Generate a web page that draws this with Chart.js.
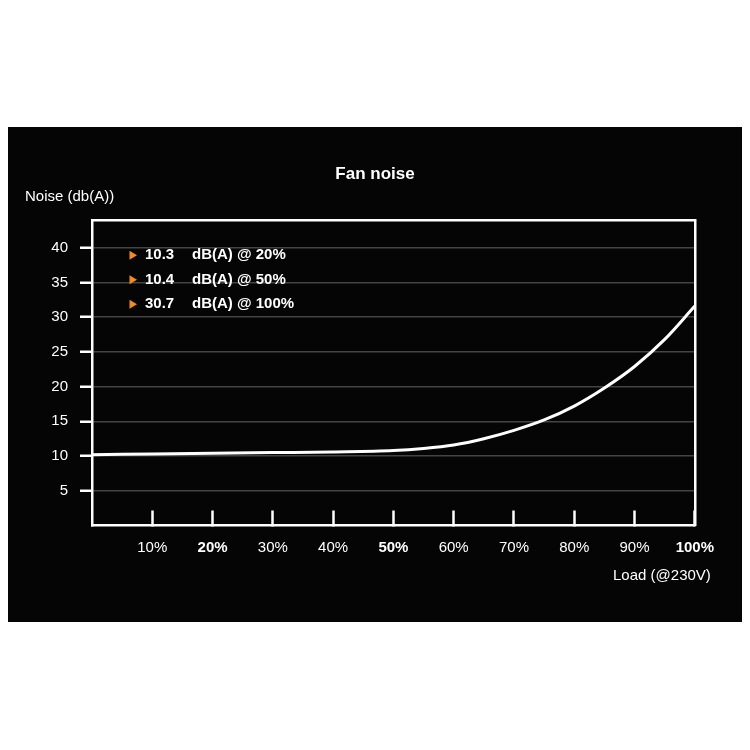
<!DOCTYPE html>
<html>
<head>
<meta charset="utf-8">
<script src="https://cdn.jsdelivr.net/npm/chart.js@4.4.1/dist/chart.umd.min.js"></script>
<style>
  html, body { margin: 0; padding: 0; background: #fff; }
  #panel { position: absolute; left: 8px; top: 127px; width: 734px; height: 495px; background: #050505; }
</style>
</head>
<body>
<div id="panel"><canvas id="noiseChart"></canvas></div>
<script>
// load in %, noise in dB(A)
const loads = [0, 10, 20, 30, 40, 50, 55, 60, 65, 70, 75, 80, 85, 90, 95, 100];
const noise = [10.2, 10.3, 10.4, 10.5, 10.6, 10.8, 11.1, 11.6, 12.5, 13.7, 15.2, 17.2, 19.8, 22.9, 26.8, 31.6];
const xTicks = [10, 20, 30, 40, 50, 60, 70, 80, 90, 100];
const yTicks = [5, 10, 15, 20, 25, 30, 35, 40];
// the three highlighted points written in the top-left corner
const noteValues = ['10.3', '10.4', '30.7'];
const noteLoads = [20, 50, 100];

const FONT = '"Liberation Sans", Arial, sans-serif';

// text drawn inside the chart: the notes and the x axis caption
const overlay = {
    id: 'overlay',
    afterDraw(chart) {
        const { ctx, chartArea } = chart;
        ctx.save();
        ctx.textBaseline = 'middle';
        ctx.font = 'bold 15px ' + FONT;
        noteValues.forEach((v, i) => {
            const y = chartArea.top + 34.5 + i * 24.5;
            const x = chartArea.left + 37.5;
            ctx.fillStyle = '#f28c1e';
            ctx.beginPath();
            ctx.moveTo(x, y - 4.5);
            ctx.lineTo(x + 7.5, y);
            ctx.lineTo(x, y + 4.5);
            ctx.closePath();
            ctx.fill();
            ctx.fillStyle = '#ffffff';
            ctx.textAlign = 'left';
            ctx.fillText(v, chartArea.left + 53, y);
            ctx.fillText('dB(A) @ ' + noteLoads[i] + '%', chartArea.left + 100, y);
        });
        ctx.font = '15px ' + FONT;
        ctx.textAlign = 'right';
        ctx.fillText('Load (@230V)', chartArea.right + 16, chartArea.bottom + 50.5);
        ctx.restore();
    }
};

const ctx = document.getElementById('noiseChart').getContext('2d');
new Chart(ctx, {
    type: 'line',
    data: {
        datasets: [{
            label: 'Fan noise',
            data: loads.map((l, i) => ({ x: l, y: noise[i] })),
            borderColor: '#ffffff',
            borderWidth: 3,
            pointRadius: 0,
            cubicInterpolationMode: 'monotone',
            clip: false
        }]
    },
    options: {
        responsive: true,
        maintainAspectRatio: false,
        animation: false,
        layout: { padding: { left: 17, right: 17, top: 0, bottom: 0 } },
        scales: {
            x: {
                type: 'linear',
                position: 'bottom',
                min: 0,
                max: 100,
                afterBuildTicks: scale => { scale.ticks = xTicks.map(v => ({ value: v })); },
                afterFit: scale => { scale.height = 96.5; },
                border: { display: true, color: '#ffffff', width: 2.5 },
                grid: {
                    drawOnChartArea: false,
                    drawTicks: true,
                    tickLength: -15,   // marks point up into the plot
                    tickColor: '#ffffff',
                    tickWidth: 2.5
                },
                ticks: {
                    color: '#ffffff',
                    padding: 28,
                    maxRotation: 0,
                    autoSkip: false,
                    callback: v => v + '%',
                    font: c => ({
                        family: FONT,
                        size: 15,
                        weight: noteLoads.includes(c.tick && c.tick.value) ? 'bold' : 'normal'
                    })
                }
            },
            xTop: {
                type: 'linear',
                position: 'top',
                min: 0,
                max: 100,
                afterFit: scale => { scale.height = 0; },
                border: { display: true, color: '#ffffff', width: 2.5 },
                grid: { display: false },
                ticks: { display: false }
            },
            y: {
                type: 'linear',
                position: 'left',
                min: 0,
                max: 43.9,
                afterBuildTicks: scale => { scale.ticks = yTicks.map(v => ({ value: v })); },
                afterFit: scale => { scale.width = 67; },
                border: { display: true, color: '#ffffff', width: 2.5 },
                grid: {
                    color: '#444444',
                    lineWidth: 1.5,
                    drawTicks: true,
                    tickLength: 12,
                    tickColor: '#ffffff',
                    tickWidth: 2.5
                },
                ticks: {
                    color: '#ffffff',
                    padding: 12,
                    font: { family: FONT, size: 15 }
                }
            },
            yRight: {
                type: 'linear',
                position: 'right',
                min: 0,
                max: 43.9,
                afterFit: scale => { scale.width = 30; },
                border: { display: true, color: '#ffffff', width: 2.5 },
                grid: { display: false },
                ticks: { display: false }
            }
        },
        plugins: {
            legend: { display: false },
            tooltip: { enabled: false },
            title: {
                display: true,
                text: 'Fan noise',
                color: '#ffffff',
                font: { family: FONT, size: 17, weight: 'bold' },
                padding: { top: 37, bottom: 0 }
            },
            subtitle: {
                display: true,
                text: 'Noise (db(A))',
                align: 'start',
                color: '#ffffff',
                font: { family: FONT, size: 15 },
                padding: { top: 3, bottom: 15.3 }
            }
        }
    },
    plugins: [overlay]
});
</script>
</body>
</html>
